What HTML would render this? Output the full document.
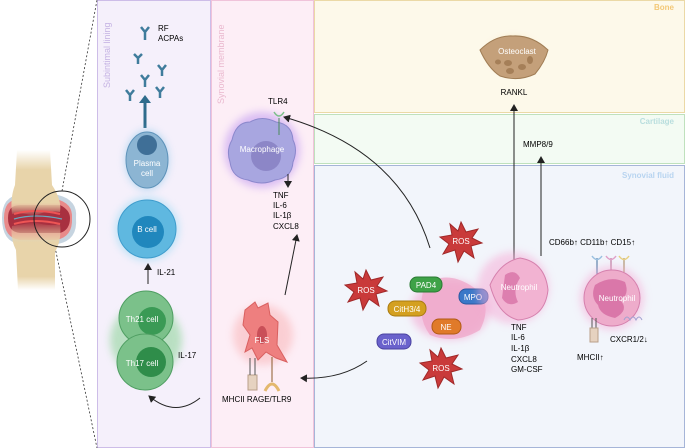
<!DOCTYPE html>
<html><head><meta charset="utf-8"><style>
html,body{margin:0;padding:0;background:#fff;}
svg{display:block;font-family:"Liberation Sans",sans-serif;}
</style></head><body>
<svg width="685" height="448" viewBox="0 0 685 448" xmlns="http://www.w3.org/2000/svg">
<defs>
<filter id="glow" x="-50%" y="-50%" width="200%" height="200%"><feGaussianBlur stdDeviation="4"/></filter>
<linearGradient id="fade" x1="0" y1="0" x2="0" y2="1"><stop offset="0" stop-color="#e8d4aa" stop-opacity="0"/><stop offset="0.3" stop-color="#e8d4aa"/><stop offset="0.8" stop-color="#e8d4aa"/><stop offset="1" stop-color="#e8d4aa" stop-opacity="0"/></linearGradient>
<marker id="ah" markerWidth="8" markerHeight="8" refX="6" refY="4" orient="auto" markerUnits="userSpaceOnUse"><path d="M0,0 L7,4 L0,8 z" fill="#222"/></marker>
</defs>
<!-- panels -->
<rect x="97.5" y="0.5" width="113" height="447" fill="#f5f0fb" stroke="#cdbde8"/>
<rect x="211.5" y="0.5" width="102" height="447" fill="#fdeef6" stroke="#f0c3da"/>
<rect x="314.5" y="0.5" width="370" height="112" fill="#fdf9ea" stroke="#ebd9a6"/>
<rect x="314.5" y="114.5" width="370" height="49" fill="#f3fbf3" stroke="#bfe1bd"/>
<rect x="314.5" y="165.5" width="370" height="282" fill="#f2f5fb" stroke="#a6b5d8"/>
<text transform="translate(110,88) rotate(-90)" font-size="9" fill="#c5b3e3">Subintimal lining</text>
<text transform="translate(224,104) rotate(-90)" font-size="9" fill="#eab9cf">Synovial membrane</text>
<text x="674" y="10" font-size="8" fill="#f3c877" text-anchor="end" font-weight="bold">Bone</text>
<text x="674" y="124" font-size="8" fill="#b9dede" text-anchor="end" font-weight="bold">Cartilage</text>
<text x="674" y="178" font-size="8" fill="#b8d4f0" text-anchor="end" font-weight="bold">Synovial fluid</text>
<!-- knee -->
<line x1="62" y1="191" x2="97" y2="0" stroke="#333" stroke-dasharray="2,2" stroke-width="0.8"/>
<line x1="55" y1="247" x2="97" y2="448" stroke="#333" stroke-dasharray="2,2" stroke-width="0.8"/>
<path d="M2,218 Q2,196 20,195 L58,195 Q78,200 76,218 Q78,240 58,244 L20,244 Q2,242 2,218Z" fill="#c6d4e0"/>
<path d="M4,218 Q4,199 20,199 L56,199 Q73,203 72,218 Q73,237 56,240 L20,240 Q4,238 4,218Z" fill="#e88a8a"/>
<path d="M8,218 Q8,205 20,205 L60,205 Q70,210 70,218 Q70,230 60,233 L20,233 Q8,232 8,218Z" fill="#a83040"/>
<path d="M17,150 L50,150 L52,185 Q62,200 60,212 Q45,210 35,216 Q22,212 12,214 Q10,198 15,185Z" fill="url(#fade)"/>
<path d="M12,226 Q25,224 35,222 Q48,227 60,224 Q62,240 55,252 L55,290 L18,290 L16,250 Q10,238 12,226Z" fill="url(#fade)"/>
<path d="M14,214 Q35,208 60,214" stroke="#e55" stroke-width="2" fill="none"/>
<path d="M14,224 Q35,218 60,224" stroke="#e55" stroke-width="2" fill="none"/>
<path d="M14,219 Q35,213 62,219" stroke="#6aa8c0" stroke-width="1.2" fill="none"/>
<circle cx="62" cy="219" r="28" fill="none" stroke="#222" stroke-width="1"/>
<!-- antibodies -->
<g stroke="#3f7c9c" stroke-width="2.5" fill="none">
<path d="M145,32 v8 M145,32 l-4,-5 M145,32 l4,-5"/>
<path d="M138,58 v6 M138,58 l-4,-4 M138,58 l4,-4"/>
<path d="M162,70 v6 M162,70 l-4,-5 M162,70 l4,-5"/>
<path d="M145,80 v7 M145,80 l-4,-5 M145,80 l4,-5"/>
<path d="M130,95 v6 M130,95 l-4,-5 M130,95 l4,-5"/>
<path d="M160,92 v6 M160,92 l-4,-5 M160,92 l4,-5"/>
</g>
<text x="158" y="31" font-size="8">RF</text>
<text x="158" y="41" font-size="8">ACPAs</text>
<path d="M145,128 V102" stroke="#2f6c8c" stroke-width="3"/>
<path d="M139,103 L145,95 L151,103Z" fill="#2f6c8c"/>
<!-- plasma cell -->
<ellipse cx="147" cy="160" rx="22" ry="30" fill="#7fc3e6" filter="url(#glow)" opacity="0.5"/>
<ellipse cx="147" cy="160" rx="21" ry="28" fill="#8cb5d3" stroke="#5e93ba"/>
<circle cx="147" cy="145" r="10" fill="#3f6f97"/>
<text x="147" y="166" font-size="8" fill="#fff" text-anchor="middle">Plasma</text>
<text x="147" y="176" font-size="8" fill="#fff" text-anchor="middle">cell</text>
<!-- B cell -->
<circle cx="147" cy="229" r="32" fill="#8fd8f2" filter="url(#glow)" opacity="0.5"/>
<circle cx="147" cy="229" r="29" fill="#5fb8e0" stroke="#3e9ccc"/>
<circle cx="148" cy="232" r="16" fill="#2087bd"/>
<text x="147" y="232" font-size="8" fill="#fff" text-anchor="middle">B cell</text>
<line x1="148" y1="284" x2="148" y2="264" stroke="#222" marker-end="url(#ah)"/>
<text x="157" y="275" font-size="8">IL-21</text>
<!-- Th cells -->
<circle cx="146" cy="340" r="36" fill="#7fd08a" filter="url(#glow)" opacity="0.5"/>
<circle cx="146" cy="318" r="27" fill="#7bc18a" stroke="#4f9e62"/>
<circle cx="152" cy="321" r="14" fill="#3a9a55"/>
<text x="142" y="322" font-size="8" fill="#fff" text-anchor="middle">Th21 cell</text>
<circle cx="145" cy="362" r="28" fill="#7bc18a" stroke="#4f9e62"/>
<circle cx="151" cy="362" r="15" fill="#2f8d4a"/>
<text x="142" y="366" font-size="8" fill="#fff" text-anchor="middle">Th17 cell</text>
<text x="178" y="358" font-size="8">IL-17</text>
<path d="M200,398 Q175,418 149,396" stroke="#222" fill="none" marker-end="url(#ah)"/>
<!-- macrophage -->
<circle cx="262" cy="150" r="38" fill="#b88ef0" filter="url(#glow)" opacity="0.5"/>
<path d="M232,140 Q236,122 250,122 Q262,115 276,122 Q292,124 293,140 Q298,150 293,162 Q292,178 275,180 Q262,186 248,180 Q232,178 230,162 Q226,150 232,140Z" fill="#a8a6e0" stroke="#8b88cc"/>
<circle cx="266" cy="156" r="15" fill="#8c86c7"/>
<text x="262" y="152" font-size="8" fill="#fff" text-anchor="middle">Macrophage</text>
<text x="268" y="104" font-size="8">TLR4</text>
<path d="M274,112 Q279,120 284,112" stroke="#7cc08a" fill="none" stroke-width="1.5"/>
<line x1="279" y1="118" x2="279" y2="135" stroke="#4a8a5a"/>
<line x1="288" y1="174" x2="288" y2="187" stroke="#222" marker-end="url(#ah)"/>
<g font-size="8"><text x="273" y="198">TNF</text><text x="273" y="208">IL-6</text><text x="273" y="218">IL-1β</text><text x="273" y="229">CXCL8</text></g>
<line x1="285" y1="295" x2="297" y2="235" stroke="#222" marker-end="url(#ah)"/>
<!-- FLS -->
<ellipse cx="263" cy="335" rx="30" ry="30" fill="#f7a0a0" filter="url(#glow)" opacity="0.4"/>
<path d="M245,310 L255,302 L258,308 L268,303 L270,315 L278,322 L277,345 L287,362 L276,358 L266,352 L258,360 L252,348 L245,352 L250,335 L243,325Z" fill="#ee7f7f" stroke="#d96060"/>
<ellipse cx="262" cy="335" rx="5" ry="9" fill="#c94f58"/>
<text x="262" y="343" font-size="8" fill="#fff" text-anchor="middle">FLS</text>
<rect x="248" y="375" width="9" height="15" fill="#e6d2c0" stroke="#b9a08a"/>
<line x1="250" y1="358" x2="250" y2="375" stroke="#555"/><line x1="255" y1="358" x2="255" y2="375" stroke="#555"/>
<line x1="272" y1="357" x2="272" y2="382" stroke="#8a5a2a"/>
<path d="M265,391 Q272,377 279,391" stroke="#e3b86e" stroke-width="3" fill="none"/>
<text x="222" y="402" font-size="8">MHCII  RAGE/TLR9</text>
<!-- bone -->
<ellipse cx="513" cy="54" rx="24" ry="16" fill="#f4c98a" filter="url(#glow)" opacity="0.6"/>
<path d="M480,50 Q495,35 513,36 Q532,35 548,50 Q545,62 535,74 Q518,82 500,76 Q488,68 480,50Z" fill="#c4a07a" stroke="#a07d55"/>
<g fill="#a57f58"><ellipse cx="498" cy="62" rx="3" ry="2.5"/><ellipse cx="508" cy="63" rx="4" ry="3"/><ellipse cx="510" cy="71" rx="4" ry="3"/><ellipse cx="522" cy="67" rx="4" ry="3"/><ellipse cx="530" cy="60" rx="3" ry="4"/></g>
<text x="517" y="54" font-size="8" fill="#fff" text-anchor="middle">Osteoclast</text>
<text x="514" y="95" font-size="8" text-anchor="middle">RANKL</text>
<line x1="514" y1="285" x2="514" y2="105" stroke="#222" marker-end="url(#ah)"/>
<text x="523" y="147" font-size="8">MMP8/9</text>
<line x1="541" y1="256" x2="541" y2="157" stroke="#222" marker-end="url(#ah)"/>
<!-- curves -->
<path d="M430,248 Q400,150 284,117" stroke="#222" fill="none" marker-end="url(#ah)"/>
<path d="M367,361 Q340,380 301,378" stroke="#222" fill="none" marker-end="url(#ah)"/>
<!-- NET -->
<ellipse cx="450" cy="310" rx="40" ry="30" fill="#f2a9d2" opacity="0.6" filter="url(#glow)"/>
<path d="M425,285 Q445,270 470,285 Q495,300 480,330 Q455,345 430,335 Q415,315 425,285Z" fill="#f0a2c6" opacity="0.7"/>
<!-- ROS stars -->
<g fill="#c93a3a" stroke="#a02828">
<polygon points="461,222 466,232 478,229 472,238 482,243 471,246 474,258 464,251 458,262 455,250 443,254 449,244 440,237 452,235 450,224 458,231"/>
<polygon points="366,270 371,280 383,277 377,286 387,291 376,294 379,306 369,299 363,310 360,298 348,302 354,292 345,285 357,283 355,272 363,279"/>
<polygon points="441,348 446,358 458,355 452,364 462,369 451,372 454,384 444,377 438,388 435,376 423,380 429,370 420,363 432,361 430,350 438,357"/>
</g>
<g font-size="8" fill="#fff" text-anchor="middle"><text x="461" y="244">ROS</text><text x="366" y="293">ROS</text><text x="441" y="371">ROS</text></g>
<!-- pills -->
<g font-size="8" fill="#fff" text-anchor="middle">
<rect x="410" y="277" width="32" height="15" rx="7" fill="#3ea247" stroke="#2b7a33"/><text x="426" y="288">PAD4</text>
<rect x="388" y="301" width="38" height="15" rx="7" fill="#d4a020" stroke="#a87a10"/><text x="407" y="312">CitH3/4</text>
<rect x="432" y="319" width="29" height="15" rx="7" fill="#e07a2a" stroke="#b05a15"/><text x="446" y="330">NE</text>
<rect x="377" y="334" width="34" height="15" rx="7" fill="#6a62cc" stroke="#4a42a0"/><text x="394" y="345">CitVIM</text>
<rect x="459" y="289" width="29" height="15" rx="7" fill="#3a78c8" stroke="#2a58a0"/><text x="473" y="300">MPO</text>
</g>
<!-- neutrophil 1 -->
<circle cx="513" cy="288" r="36" fill="#f6a8d4" filter="url(#glow)" opacity="0.5"/>
<path d="M490,285 Q500,262 520,258 Q545,262 548,290 Q545,318 518,320 Q498,315 490,285Z" fill="#f2b3d2" stroke="#d580ad"/>
<path d="M505,275 Q515,268 520,278 Q512,290 518,302 Q508,308 502,298Z" fill="#d46aa0" opacity="0.7"/>
<text x="519" y="290" font-size="8" fill="#fff" text-anchor="middle">Neutrophil</text>
<g font-size="8"><text x="511" y="330">TNF</text><text x="511" y="340">IL-6</text><text x="511" y="351">IL-1β</text><text x="511" y="362">CXCL8</text><text x="511" y="372">GM-CSF</text></g>
<!-- neutrophil 2 -->
<text x="549" y="245" font-size="8">CD66b↑  CD11b↑  CD15↑</text>
<line x1="597" y1="258" x2="597" y2="275" stroke="#3a6a9a"/><path d="M592,256 Q597,263 602,256" stroke="#9ac0e0" stroke-width="1.5" fill="none"/>
<line x1="611" y1="258" x2="611" y2="275" stroke="#b0608a"/><path d="M606,256 Q611,263 616,256" stroke="#e0a0c8" stroke-width="1.5" fill="none"/>
<line x1="624" y1="258" x2="624" y2="275" stroke="#a08050"/><path d="M619,256 Q624,263 629,256" stroke="#e8d080" stroke-width="1.5" fill="none"/>
<circle cx="612" cy="298" r="32" fill="#f6a8d4" filter="url(#glow)" opacity="0.5"/>
<circle cx="612" cy="298" r="28" fill="#eeaccb" stroke="#d580ad"/>
<path d="M595,285 Q610,275 625,282 Q630,295 620,300 Q630,310 615,318 Q600,315 598,305 Q590,297 595,285Z" fill="#d46aa0" opacity="0.8"/>
<text x="617" y="301" font-size="8" fill="#fff" text-anchor="middle">Neutrophil</text>
<line x1="592" y1="318" x2="592" y2="328" stroke="#555"/><line x1="596" y1="318" x2="596" y2="328" stroke="#555"/>
<rect x="590" y="328" width="8" height="14" fill="#e6d2c0" stroke="#b9a08a"/>
<path d="M624,320 q3,-6 6,0 q3,-6 6,0 q3,-6 6,0" stroke="#a0a0d0" fill="none"/>
<text x="610" y="342" font-size="8">CXCR1/2↓</text>
<text x="577" y="360" font-size="8">MHCII↑</text>
</svg>
</body></html>
